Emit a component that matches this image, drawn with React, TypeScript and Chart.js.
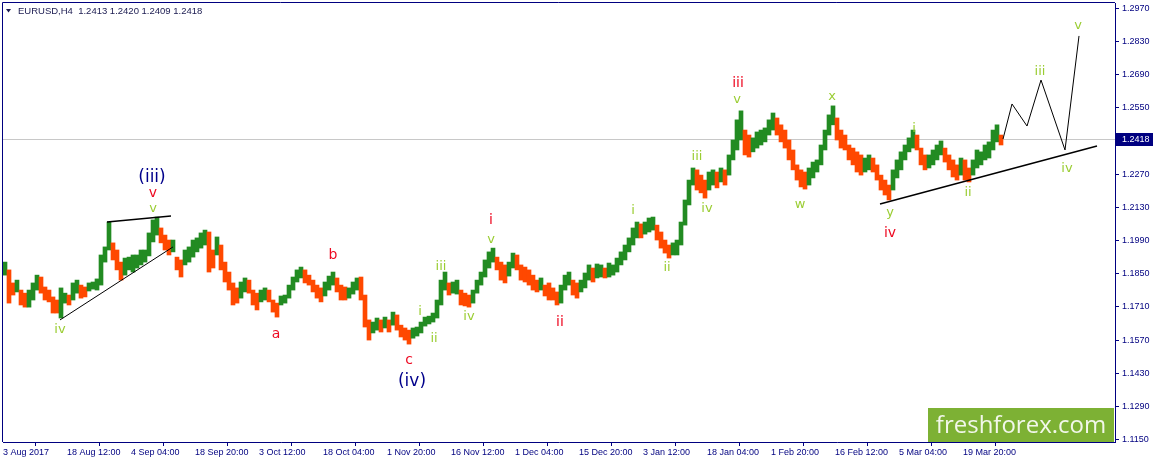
import React, { useEffect, useRef } from "react";
import { Chart, registerables } from "chart.js";
Chart.register(...registerables);

// ---- data ----
const headerSymbol = "EURUSD,H4";
const headerValues = [1.2413, 1.242, 1.2409, 1.2418];

const dateLabels = [
  "3 Aug 2017", "18 Aug 12:00", "4 Sep 04:00", "18 Sep 20:00", "3 Oct 12:00", "18 Oct 04:00",
  "1 Nov 20:00", "16 Nov 12:00", "1 Dec 04:00", "15 Dec 20:00", "3 Jan 12:00", "18 Jan 04:00",
  "1 Feb 20:00", "16 Feb 12:00", "5 Mar 04:00", "19 Mar 20:00",
];
const barsPerLabel = 16;
const totalSlots = 278;

const priceTicks = [
  1.115, 1.129, 1.143, 1.157, 1.171, 1.185, 1.199, 1.213, 1.227, 1.241, 1.255, 1.269, 1.283, 1.297,
];

const highs = [
  1.1899, 1.1866, 1.1811, 1.1823, 1.1781, 1.1768, 1.1781, 1.1811, 1.1844, 1.1836,
  1.1794, 1.1781, 1.1752, 1.1739, 1.179, 1.1768, 1.176, 1.1811, 1.1823, 1.1802,
  1.1794, 1.1811, 1.1815, 1.1828, 1.1929, 1.1963, 1.2068, 1.198, 1.195, 1.1899,
  1.1916, 1.192, 1.1929, 1.1929, 1.195, 1.195, 1.2022, 1.2077, 1.2089, 1.2043,
  1.2013, 1.1992, 1.1992, 1.192, 1.1908, 1.195, 1.1963, 1.1992, 1.2001, 1.2022,
  1.2034, 1.2026, 1.195, 1.2005, 1.1971, 1.1899, 1.1857, 1.1811, 1.179, 1.1815,
  1.1832, 1.1823, 1.1781, 1.1768, 1.1781, 1.179, 1.1781, 1.1739, 1.1726, 1.1756,
  1.176, 1.1802, 1.1836, 1.1866, 1.1878, 1.1866, 1.1844, 1.1823, 1.1802, 1.179,
  1.1815, 1.184, 1.1857, 1.1832, 1.1802, 1.1794, 1.179, 1.1815, 1.1832, 1.1836,
  1.176, 1.1655, 1.1646, 1.1663, 1.1655, 1.1667, 1.1655, 1.1688, 1.1676, 1.1633,
  1.1621, 1.1612, 1.1621, 1.1625, 1.1646, 1.1667, 1.1671, 1.1684, 1.1739, 1.1823,
  1.1857, 1.1811, 1.1815, 1.1823, 1.1781, 1.1768, 1.176, 1.1781, 1.1823, 1.1857,
  1.1908, 1.1942, 1.1958, 1.192, 1.1899, 1.1887, 1.1899, 1.1937, 1.1929, 1.1887,
  1.1878, 1.1866, 1.1844, 1.1823, 1.1832, 1.1802, 1.1811, 1.179, 1.1773, 1.1802,
  1.1844, 1.1857, 1.1823, 1.1811, 1.1823, 1.1853, 1.1887, 1.1874, 1.1891, 1.1887,
  1.1874, 1.1895, 1.1887, 1.1916, 1.1942, 1.1971, 1.2001, 1.2043, 1.2068, 1.206,
  1.2068, 1.2085, 1.2089, 1.2055, 1.2026, 1.1992, 1.1971, 1.198, 1.1992, 1.2068,
  1.2161, 1.2245, 1.2296, 1.2288, 1.2266, 1.2245, 1.2279, 1.2288, 1.2279, 1.2296,
  1.2288, 1.2351, 1.2414, 1.2499, 1.2537, 1.2456, 1.2435, 1.2423, 1.2448, 1.2456,
  1.2465, 1.2499, 1.2528, 1.2507, 1.2478, 1.2456, 1.2414, 1.2372, 1.2309, 1.2288,
  1.2279, 1.2296, 1.2321, 1.233, 1.2393, 1.2456, 1.252, 1.2558, 1.2507, 1.2456,
  1.2435, 1.2393, 1.238, 1.2364, 1.2351, 1.2338, 1.2351, 1.2338, 1.2309, 1.2266,
  1.2245, 1.2224, 1.2288, 1.233, 1.2364, 1.2393, 1.2423, 1.2456, 1.2435, 1.238,
  1.2351, 1.2351, 1.2372, 1.2393, 1.241, 1.238, 1.2351, 1.233, 1.2309, 1.2338,
  1.233, 1.2296, 1.233, 1.2372, 1.2364, 1.2393, 1.2406, 1.2456, 1.2478, 1.2435,
];

const lows = [
  1.1844, 1.1726, 1.176, 1.1773, 1.1718, 1.1709, 1.1709, 1.1739, 1.1781, 1.1768,
  1.1739, 1.1731, 1.1684, 1.1684, 1.1663, 1.1726, 1.1718, 1.1739, 1.1768, 1.1747,
  1.1752, 1.1777, 1.1785, 1.1781, 1.1802, 1.1899, 1.195, 1.1908, 1.1866, 1.1823,
  1.1844, 1.1866, 1.1857, 1.1874, 1.1887, 1.1899, 1.1925, 1.1984, 1.2013, 1.198,
  1.195, 1.1929, 1.1942, 1.1866, 1.1836, 1.1887, 1.1899, 1.192, 1.1942, 1.1958,
  1.1971, 1.1857, 1.1874, 1.1929, 1.1866, 1.1815, 1.1781, 1.1718, 1.1726, 1.1747,
  1.1773, 1.1768, 1.1718, 1.1697, 1.1731, 1.1739, 1.1731, 1.1688, 1.1667, 1.1718,
  1.1726, 1.1747, 1.1781, 1.1815, 1.1832, 1.1811, 1.1802, 1.1773, 1.1747, 1.1731,
  1.1756, 1.1781, 1.1802, 1.1773, 1.1739, 1.1739, 1.1747, 1.1764, 1.1781, 1.1739,
  1.1625, 1.157, 1.16, 1.1612, 1.1604, 1.1621, 1.1604, 1.1633, 1.1612, 1.1583,
  1.157, 1.1553, 1.1578, 1.1587, 1.16, 1.1629, 1.1638, 1.1646, 1.1663, 1.1718,
  1.1781, 1.176, 1.1768, 1.1764, 1.1718, 1.1714, 1.1709, 1.1726, 1.1768, 1.1802,
  1.1836, 1.1874, 1.1899, 1.1866, 1.1823, 1.1811, 1.184, 1.1874, 1.1866, 1.1823,
  1.1815, 1.1802, 1.1781, 1.1773, 1.1781, 1.1756, 1.1739, 1.1739, 1.1718, 1.1726,
  1.1781, 1.1802, 1.176, 1.1747, 1.1773, 1.179, 1.1823, 1.1815, 1.1832, 1.1836,
  1.1832, 1.1836, 1.1844, 1.1857, 1.1887, 1.1908, 1.1942, 1.1971, 1.2001, 1.2001,
  1.2017, 1.2026, 1.2034, 1.1992, 1.1958, 1.1937, 1.1916, 1.1929, 1.1929, 1.1971,
  1.2055, 1.214, 1.2224, 1.2203, 1.2191, 1.2169, 1.2203, 1.2224, 1.2212, 1.2237,
  1.2224, 1.2266, 1.233, 1.2372, 1.2414, 1.2351, 1.2342, 1.2364, 1.238, 1.2393,
  1.2406, 1.2435, 1.2456, 1.2435, 1.2406, 1.238, 1.233, 1.2288, 1.2245, 1.2216,
  1.2207, 1.2224, 1.2254, 1.2279, 1.2309, 1.2372, 1.2435, 1.2478, 1.2414, 1.238,
  1.2372, 1.233, 1.2309, 1.2279, 1.2266, 1.2279, 1.2288, 1.2279, 1.2245, 1.2203,
  1.2182, 1.2161, 1.2203, 1.2254, 1.2288, 1.233, 1.2364, 1.238, 1.2372, 1.2309,
  1.2288, 1.2296, 1.2309, 1.233, 1.2351, 1.2321, 1.2288, 1.2258, 1.2245, 1.2266,
  1.2245, 1.2237, 1.2266, 1.2296, 1.2309, 1.233, 1.2338, 1.2372, 1.2406, 1.2393,
];

// trend lines and projected path (bar index, price)
const trendLowIdx = [13.75, 42];
const trendLowPrice = [1.1655, 1.1963];
const trendTopIdx = [25.5, 41.5];
const trendTopPrice = [1.2068, 1.2093];
const trendRightIdx = [218.75, 273];
const trendRightPrice = [1.2144, 1.2389];
const projIdx = [249.5, 251.75, 255.5, 259, 265, 268.5];
const projPrice = [1.2418, 1.2566, 1.2473, 1.2667, 1.2372, 1.2853];

// wave labels
const waveText = ["(iii)", "v", "v", "iv", "a", "b", "c", "(iv)", "i", "ii", "iii", "iv", "v", "i", "ii", "i", "ii", "iii", "iv", "v", "iii", "w", "x", "y", "iv", "i", "ii", "iii", "iv", "v"];
const waveIdx = [36.75, 37, 37, 13.75, 67.75, 82, 101, 101.75, 103.75, 107.25, 109, 116, 121.5, 121.5, 138.75, 157, 165.5, 173, 175.5, 183, 183.25, 198.75, 206.75, 221.25, 221.25, 227.25, 240.75, 258.75, 265.5, 268.25];
const wavePrice = [1.2254, 1.2191, 1.2123, 1.1612, 1.1595, 1.1929, 1.1486, 1.1393, 1.1688, 1.1578, 1.1878, 1.1671, 1.1992, 1.2077, 1.1646, 1.2115, 1.1874, 1.2342, 1.2123, 1.2583, 1.2651, 1.214, 1.2596, 1.2106, 1.2022, 1.2461, 1.2191, 1.2701, 1.2292, 1.2895];
const waveDegree = ["int", "minor", "minute", "minute", "minor", "minor", "minor", "int", "minute", "minute", "minute", "minute", "minute", "minor", "minor", "minute", "minute", "minute", "minute", "minute", "minor", "minute", "minute", "minute", "minor", "minute", "minute", "minute", "minute", "minute"];

// ---- styles ----
const NAVY = "#000080";
const UP = "#228B22";
const DOWN = "#FF4800";
const degreeStyle: Record<string, { color: string; font: string }> = {
  int: { color: "#00008B", font: "17px 'DejaVu Sans'" },
  minor: { color: "#EE0A22", font: "14px 'DejaVu Sans'" },
  minute: { color: "#9ACD32", font: "13px 'DejaVu Sans'" },
};
const AXIS_FONT = { family: "'Liberation Sans', Arial, sans-serif", size: 9 };

const pts = (xs: number[], ys: number[]) => xs.map((x, i) => ({ x, y: ys[i] }));

export default function App() {
  const ref = useRef<HTMLCanvasElement>(null);

  useEffect(() => {
    document.body.style.margin = "0";
    const canvas = ref.current!;
    const mids = highs.map((h, i) => (h + lows[i]) / 2);
    const colors = mids.map((m, i) => (i === 0 || m >= mids[i - 1] ? UP : DOWN));
    const bars = highs.map((h, i) => ({ x: i, y: [lows[i], h] }));
    const lastClose = headerValues[3];

    const lineDs = (data: any[], width: number) => ({
      type: "line" as const,
      data,
      borderColor: "#000000",
      borderWidth: width,
      pointRadius: 0,
      fill: false,
      tension: 0,
      order: 1,
    });

    const overlay = {
      id: "overlay",
      beforeDatasetsDraw(chart: any) {
        const { ctx, chartArea: a, scales } = chart;
        const y = Math.round(scales.y.getPixelForValue(lastClose)) + 0.5;
        ctx.save();
        ctx.strokeStyle = "#C8C8C8";
        ctx.lineWidth = 1;
        ctx.beginPath();
        ctx.moveTo(a.left, y);
        ctx.lineTo(a.right, y);
        ctx.stroke();
        ctx.restore();
      },
      afterDraw(chart: any) {
        const { ctx, chartArea: a, scales } = chart;
        ctx.save();
        // frame (top, left)
        ctx.strokeStyle = NAVY;
        ctx.lineWidth = 1;
        ctx.beginPath();
        ctx.moveTo(a.left - 0.5, a.bottom);
        ctx.lineTo(a.left - 0.5, a.top - 0.5);
        ctx.lineTo(a.right, a.top - 0.5);
        ctx.stroke();

        // wave labels
        ctx.textAlign = "center";
        ctx.textBaseline = "middle";
        waveText.forEach((t, i) => {
          const st = degreeStyle[waveDegree[i]];
          ctx.font = st.font;
          ctx.fillStyle = st.color;
          ctx.fillText(t, scales.x.getPixelForValue(waveIdx[i]), scales.y.getPixelForValue(wavePrice[i]));
        });

        // header
        ctx.fillStyle = "#1a1a50";
        ctx.beginPath();
        ctx.moveTo(a.left + 3, a.top + 6);
        ctx.lineTo(a.left + 8, a.top + 6);
        ctx.lineTo(a.left + 5.5, a.top + 9.5);
        ctx.closePath();
        ctx.fill();
        ctx.textAlign = "left";
        ctx.font = "9.5px 'Liberation Sans', Arial, sans-serif";
        ctx.fillText(
          headerSymbol + "  " + headerValues.map((v) => v.toFixed(4)).join(" "),
          a.left + 15,
          a.top + 8.5
        );

        // current price box
        const py = scales.y.getPixelForValue(lastClose);
        ctx.fillStyle = NAVY;
        ctx.fillRect(a.right + 1, Math.round(py) - 6, 37, 13);
        ctx.fillStyle = "#FFFFFF";
        ctx.font = "9px 'Liberation Sans', Arial, sans-serif";
        ctx.fillText(lastClose.toFixed(4), a.right + 7, Math.round(py) + 0.5);

        // logo
        const lw = 186, lh = 34;
        const lx = a.right - lw - 1, ly = a.bottom - lh;
        ctx.fillStyle = "#7DB134";
        ctx.fillRect(lx, ly, lw, lh);
        ctx.fillStyle = "#F2F7EA";
        ctx.font = "24px 'Open Sans', sans-serif";
        ctx.textAlign = "center";
        ctx.fillText("freshforex.com", lx + lw / 2, ly + lh / 2 + 1);
        ctx.restore();
      },
    };

    const chart = new Chart(canvas, {
      type: "bar",
      data: {
        datasets: [
          {
            type: "bar",
            data: bars as any,
            backgroundColor: colors,
            borderWidth: 0,
            barThickness: 4,
            order: 2,
          } as any,
          lineDs(pts(trendLowIdx, trendLowPrice), 1),
          lineDs(pts(trendTopIdx, trendTopPrice), 1.5),
          lineDs(pts(trendRightIdx, trendRightPrice), 1.5),
          lineDs(pts(projIdx, projPrice), 1),
        ],
      },
      options: {
        responsive: false,
        animation: false,
        events: [],
        layout: { padding: { left: 3, top: 3, right: 0, bottom: 0 } },
        plugins: { legend: { display: false }, tooltip: { enabled: false }, title: { display: false } },
        scales: {
          x: {
            type: "linear",
            min: -0.5,
            max: totalSlots - 0.5,
            offset: false,
            afterBuildTicks: (s: any) => {
              s.ticks = dateLabels.map((_, k) => ({ value: k * barsPerLabel - 0.5 }));
            },
            afterFit: (s: any) => {
              s.height = 21;
              s.paddingLeft = 0;
              s.paddingRight = 0;
            },
            ticks: {
              autoSkip: false,
              maxRotation: 0,
              minRotation: 0,
              align: "start",
              padding: 1,
              color: NAVY,
              font: AXIS_FONT,
              callback: (v: any) => dateLabels[Math.round((Number(v) + 0.5) / barsPerLabel)] ?? "",
            },
            grid: { drawOnChartArea: false, tickLength: 4, color: NAVY },
            border: { color: NAVY, width: 1 },
          },
          y: {
            type: "linear",
            position: "right",
            min: 1.114,
            max: 1.2992,
            afterBuildTicks: (s: any) => {
              s.ticks = priceTicks.map((v) => ({ value: v }));
            },
            afterFit: (s: any) => {
              s.width = 40;
              s.paddingTop = 0;
              s.paddingBottom = 0;
            },
            ticks: {
              autoSkip: false,
              padding: 3,
              color: NAVY,
              font: AXIS_FONT,
              callback: (v: any) => Number(v).toFixed(4),
            },
            grid: { drawOnChartArea: false, tickLength: 4, color: NAVY },
            border: { color: NAVY, width: 1 },
          },
        },
      } as any,
      plugins: [overlay],
    });
    return () => chart.destroy();
  }, []);

  return (
    <div style={{ position: "fixed", left: 0, top: 0, width: 1155, height: 463, background: "#FFFFFF" }}>
      <canvas ref={ref} width={1155} height={463} style={{ width: 1155, height: 463, display: "block" }} />
    </div>
  );
}
